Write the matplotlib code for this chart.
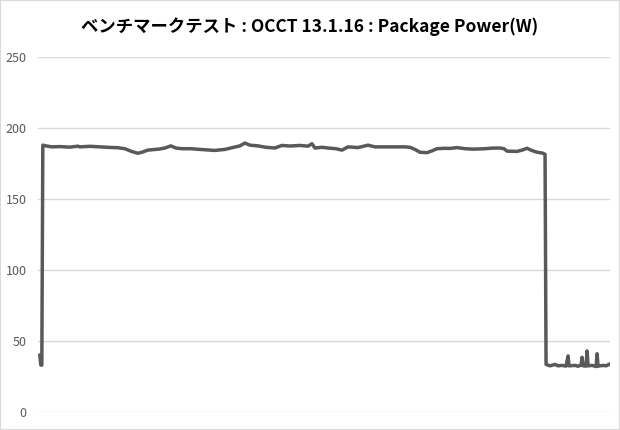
import matplotlib.pyplot as plt
from matplotlib.patches import Rectangle

plt.rcParams['font.family'] = ['Noto Sans CJK JP', 'DejaVu Sans']

# 経過時間(秒) と Package Power(W)
t = [0, 1, 2, 3, 6, 12, 20, 30, 38, 40, 50, 60, 70, 78, 85, 92, 98, 102, 108, 120,
     125, 131, 136, 142, 151, 160, 175, 185, 192, 200, 205, 210, 218, 226, 235, 242,
     250, 260, 268, 272, 275, 282, 288, 296, 302, 308, 318, 328, 335, 345, 355, 365,
     370, 375, 380, 387, 392, 397, 405, 410, 417, 425, 433, 445, 452, 460, 464, 467,
     477, 482, 487, 491, 496, 503, 505, 506, 510, 515, 518, 522, 526, 528, 529, 535,
     538, 541, 542, 543, 546, 547, 548, 552, 556, 557, 558, 563, 566, 569]
power = [40, 33, 33, 188, 187.5, 186.8, 187, 186.6, 187.3, 186.8, 187.2, 186.8, 186.4,
         186.2, 185.5, 183.5, 182.3, 183, 184.5, 185.3, 186, 187.5, 186, 185.5, 185.5,
         185, 184.3, 185, 186.2, 187.5, 189.5, 188, 187.5, 186.5, 186, 187.8, 187.4,
         187.8, 187.3, 189, 186, 186.5, 186, 185.5, 184.5, 186.8, 186.3, 188, 186.8,
         186.8, 186.8, 186.8, 186.5, 185, 183, 182.7, 184, 185.5, 185.8, 185.7, 186.3,
         185.5, 185.2, 185.5, 185.9, 186, 185.5, 183.8, 183.6, 184.5, 185.8, 184.5,
         183.2, 182.3, 181.5, 33.5, 32.5, 33.5, 32.5, 32.8, 32.3, 39.5, 32.5, 32.8,
         32.2, 33, 38.5, 32.5, 32.3, 43, 32.5, 32.8, 32, 41, 32.3, 32.8, 32.5, 33.5]
yticks = [0, 50, 100, 150, 200, 250]

fig = plt.figure(figsize=(6.2, 4.3), dpi=100)
ax = fig.add_axes([0.061, 0.042, 0.923, 0.825])

ax.plot(t, power, color='#595959', linewidth=2.5, solid_joinstyle='round')

ax.set_xlim(-2, 570)
ax.set_ylim(0, 250)
ax.set_yticks(yticks)
ax.set_xticks([])
ax.grid(axis='y', color='#d9d9d9', linewidth=1)
ax.set_axisbelow(True)
for s in ax.spines.values():
    s.set_visible(False)
ax.tick_params(axis='y', length=0, labelsize=9, labelcolor='#595959', pad=8)

fig.suptitle('ベンチマークテスト : OCCT 13.1.16 : Package Power(W)',
             y=0.96, fontsize=12.5, fontweight='bold')

fig.patches.append(Rectangle((0, 0), 1, 1, transform=fig.transFigure, fill=False,
                             edgecolor='#d9d9d9', linewidth=1.5))

fig.savefig('out.png', dpi=100)
